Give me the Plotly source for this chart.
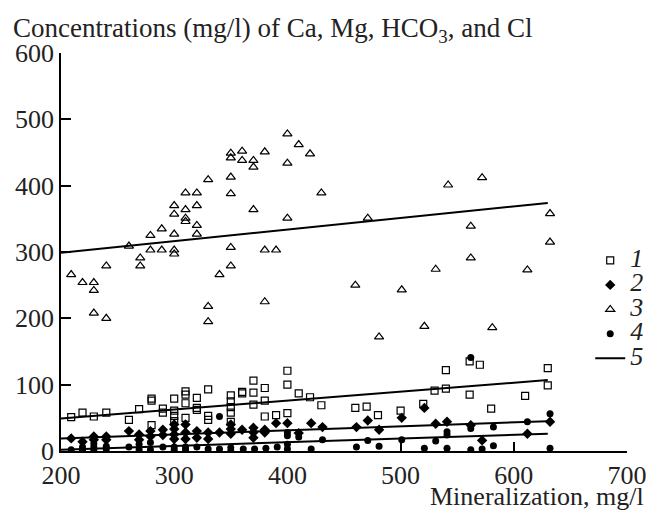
import plotly.graph_objects as go

# Series 1 (open squares)
s1_x = [209, 219, 229, 240, 260, 269, 280, 280, 280, 290, 290, 300, 300, 300, 300, 310, 310, 310, 310,
        320, 320, 320, 330, 330, 330, 350, 350, 350, 350, 350, 360, 360, 370, 370, 370, 380, 380, 380,
        390, 400, 400, 400, 410, 420, 430, 460, 470, 480, 500, 520, 530, 540, 540, 561, 561, 570, 580,
        610, 630, 630]
s1_y = [51, 58, 52, 58, 47, 63, 79, 76, 39, 64, 58, 79, 61, 53, 45, 90, 85, 72, 50,
        80, 65, 62, 93, 53, 47, 84, 75, 66, 58, 44, 89, 87, 106, 88, 70, 95, 76, 52,
        54, 121, 100, 57, 87, 81, 69, 65, 67, 54, 61, 71, 91, 122, 94, 135, 85, 130, 64,
        83, 125, 99]

# Series 2 (filled diamonds)
s2_x = [209, 219, 229, 229, 240, 240, 260, 269, 269, 279, 279, 290, 290, 300, 300, 300, 300, 310, 310,
        310, 320, 320, 330, 330, 340, 350, 350, 350, 360, 370, 370, 370, 380, 380, 390, 400, 410, 421,
        431, 461, 471, 481, 501, 521, 531, 541, 562, 572, 612, 632]
s2_y = [19, 14, 22, 17, 22, 17, 30, 25, 17, 30, 22, 32, 24, 40, 33, 25, 18, 40, 28,
        18, 30, 20, 28, 18, 28, 40, 33, 26, 32, 35, 28, 20, 32, 28, 42, 42, 27, 42,
        36, 36, 46, 32, 50, 65, 41, 44, 39, 16, 26, 44]

# Series 3 (open triangles)
s3_x = [209, 219, 229, 229, 229, 240, 240, 260, 270, 270, 279, 279, 289, 289, 300, 300, 300, 300, 300,
        310, 310, 310, 310, 320, 320, 320, 320, 330, 330, 330, 340, 350, 350, 350, 350, 350, 350, 360,
        360, 370, 370, 370, 380, 380, 380, 390, 400, 400, 400, 410, 420, 430, 460, 471, 481, 501, 521,
        531, 542, 562, 562, 572, 581, 612, 632, 632]
s3_y = [266, 254, 254, 242, 208, 200, 279, 309, 291, 279, 325, 303, 335, 303, 370, 357, 327, 303, 297,
        389, 364, 351, 346, 389, 370, 340, 327, 409, 218, 195, 266, 449, 442, 413, 388, 307, 279, 452,
        438, 438, 428, 364, 451, 303, 225, 303, 478, 434, 351, 462, 448, 389, 250, 351, 172, 243, 188,
        274, 401, 339, 291, 412, 186, 273, 358, 315]

# Series 4 (filled circles)
s4_x = [209, 219, 219, 229, 229, 229, 240, 240, 260, 269, 269, 279, 279, 290, 300, 300, 310, 310, 320,
        330, 340, 340, 350, 350, 361, 371, 381, 391, 400, 400, 400, 400, 410, 421, 431, 461, 471, 481,
        501, 521, 531, 541, 541, 541, 562, 562, 562, 572, 582, 582, 612, 632, 632]
s4_y = [2, 6, 1, 11, 6, 1, 7, 3, 6, 10, 2, 13, 2, 6, 6, 2, 6, 2, 6,
        3, 52, 3, 5, 0, 3, 3, 4, 6, 28, 23, 10, 3, 21, 3, 17, 6, 16, 7,
        17, 4, 15, 29, 24, 4, 141, 34, 2, 3, 36, 8, 44, 56, 4]

# Regression lines (5)
fit_x = [200, 630]
fit1 = [49, 107]
fit2 = [19, 45]
fit3 = [299, 374]
fit4 = [2, 26]

legend_labels = ["1", "2", "3", "4", "5"]
x_ticks = [200, 300, 400, 500, 600, 700]
y_ticks = [0, 100, 200, 300, 400, 500, 600]

FONT = "Liberation Serif, Times New Roman, serif"
fig = go.Figure()

def lab(t):
    return "<span style='font-size:26px'><i>%s</i></span>" % t

for fy in [fit1, fit2, fit3, fit4]:
    fig.add_trace(go.Scatter(x=fit_x, y=fy, mode="lines", line=dict(color="black", width=2),
                             showlegend=False, hoverinfo="skip"))

fig.add_trace(go.Scatter(x=s1_x, y=s1_y, mode="markers", name=lab(legend_labels[0]),
                         marker=dict(symbol="square-open", size=7, color="black", line=dict(width=1.2))))
fig.add_trace(go.Scatter(x=s2_x, y=s2_y, mode="markers", name=lab(legend_labels[1]),
                         marker=dict(symbol="diamond", size=8, color="black")))
fig.add_trace(go.Scatter(x=s3_x, y=s3_y, mode="markers", name=lab(legend_labels[2]),
                         marker=dict(symbol="triangle-up-open", size=8, color="black", line=dict(width=1.2))))
fig.add_trace(go.Scatter(x=s4_x, y=s4_y, mode="markers", name=lab(legend_labels[3]),
                         marker=dict(symbol="circle", size=7, color="black")))
fig.add_trace(go.Scatter(x=[None], y=[None], mode="lines", name=lab(legend_labels[4]),
                         line=dict(color="black", width=2)))

fig.update_layout(
    width=650, height=512,
    margin=dict(l=61, r=23, t=52.5, b=60.5, autoexpand=False),
    paper_bgcolor="white", plot_bgcolor="white",
    font=dict(family=FONT, size=25, color="#222"),
    legend=dict(x=0.935, y=0.522, xanchor="left", yanchor="top",
                font=dict(family=FONT, size=16.5, color="#222"),
                bgcolor="rgba(0,0,0,0)", tracegroupgap=0, itemsizing="trace"),
    xaxis=dict(range=[200, 700], tickvals=x_ticks, ticks="inside", ticklen=9, tickwidth=1.5,
               tickcolor="black", showline=True, linecolor="black", linewidth=1.5,
               showgrid=False, zeroline=False, tickfont=dict(size=26, family=FONT, color="#222")),
    yaxis=dict(range=[0, 600], tickvals=y_ticks, ticks="inside", ticklen=10, tickwidth=1.5,
               tickcolor="black", showline=True, linecolor="black", linewidth=1.5,
               showgrid=False, zeroline=False, tickfont=dict(size=26, family=FONT, color="#222")),
    annotations=[
        dict(text="Concentrations (mg/l) of Ca, Mg, HCO<sub>3</sub>, and Cl", xref="paper", yref="paper",
             x=-0.088, y=1.058, xanchor="left", yanchor="middle", showarrow=False,
             font=dict(size=27, family=FONT, color="#222")),
        dict(text="Mineralization, mg/l", xref="paper", yref="paper", x=1.033, y=-0.114,
             xanchor="right", yanchor="middle", showarrow=False,
             font=dict(size=26, family=FONT, color="#222")),
    ],
)

fig.write_html("out.html")
